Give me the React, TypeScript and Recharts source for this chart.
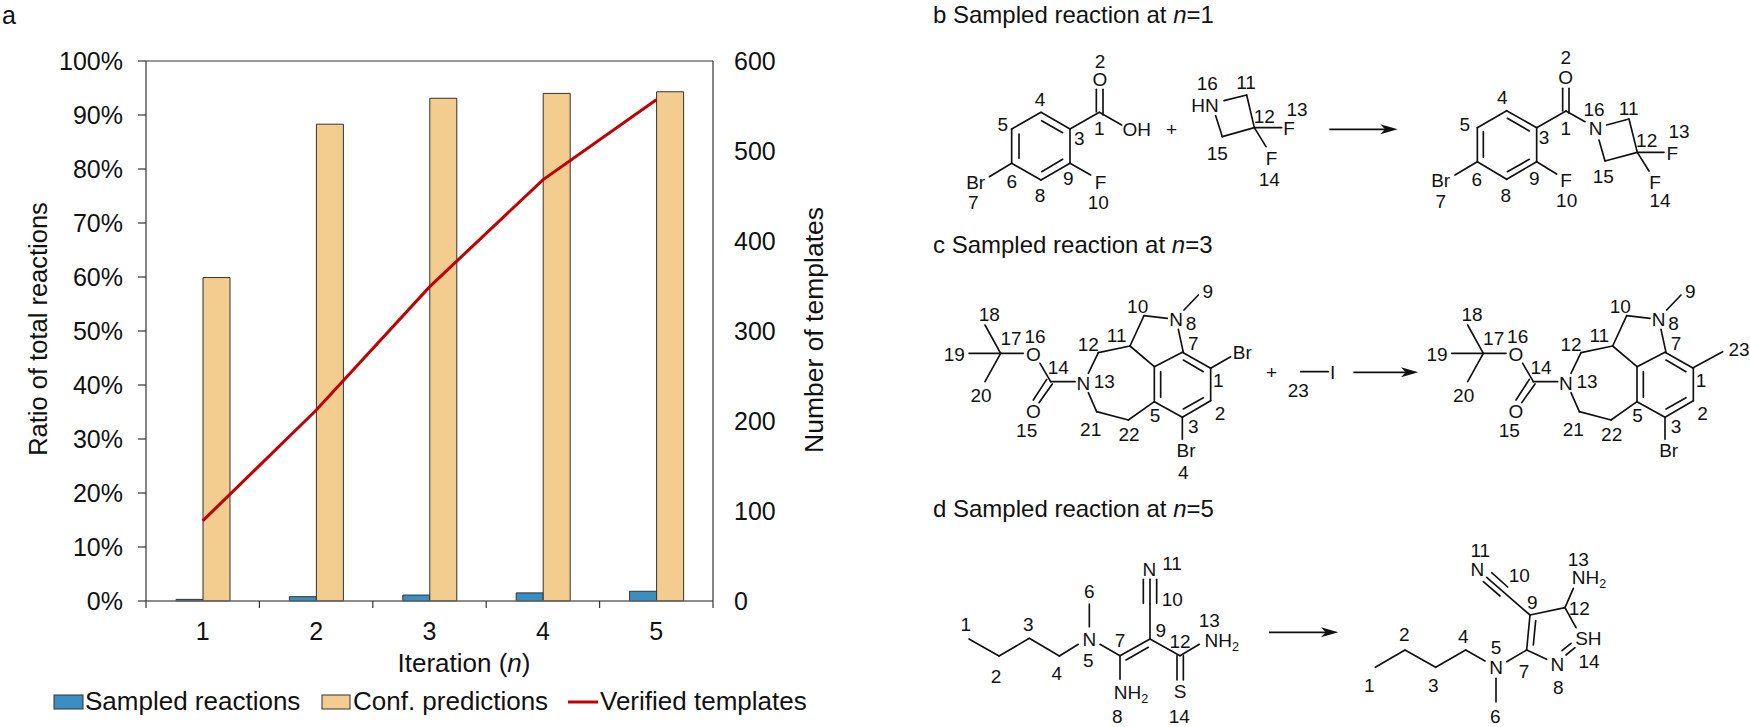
import { Bar, ComposedChart, Legend, Line, ReferenceLine, XAxis, YAxis } from "recharts"

const iterations = ["1", "2", "3", "4", "5"]
const sampledReactions = [0.3, 0.8, 1.1, 1.5, 1.8]
const confPredictions = [59.9, 88.3, 93.1, 94.0, 94.3]
const verifiedTemplates = [89, 212, 349, 468, 557]
const ratioTicks = [0, 10, 20, 30, 40, 50, 60, 70, 80, 90, 100]
const templateTicks = [0, 100, 200, 300, 400, 500, 600]

const FONT = "'Liberation Sans', Arial, sans-serif"
const BLUE = "#3b8ec2"
const TAN = "#f3cd8f"
const RED = "#c00000"

const chartData = iterations.map((n, i) => ({
    n,
    sampled: sampledReactions[i],
    conf: confPredictions[i],
    verified: verifiedTemplates[i],
}))

type Seg = [number, number, number, number]
type Lab = [string, number, number]

// structures are noted in crop pixels (3x), ox/oy put them back on the page
interface Structure {
    ox: number
    oy: number
    bonds: Seg[]
    labels: Lab[]
    arrow?: [number, number, number]
}

const boc: Seg[] = [
    [542, 430, 495, 345], [542, 430, 447, 430], [542, 430, 495, 515], [542, 430, 610, 430],
    [660, 460, 692, 515], [680, 508, 640, 570], [697, 522, 657, 578], [692, 515, 765, 515],
    [805, 490, 835, 428], [835, 428, 930, 408], [930, 408, 972, 317], [972, 317, 1042, 325],
    [1092, 300, 1135, 255], [1075, 358, 1090, 427], [930, 408, 1003, 470],
    [1003, 470, 1087, 427], [1087, 427, 1172, 475], [1172, 475, 1172, 572], [1172, 572, 1087, 622],
    [1087, 622, 1003, 575], [1003, 575, 1003, 470], [1090, 450, 1150, 485], [1150, 563, 1090, 597],
    [1022, 485, 1022, 562], [1087, 622, 1087, 688], [1003, 575, 925, 630], [925, 630, 830, 605],
    [830, 605, 805, 548],
]
const bocLabels: Lab[] = [
    ["9", 1163, 242], ["10", 953, 288], ["N", 1068, 328], ["8", 1113, 340], ["7", 1120, 398],
    ["18", 508, 312], ["17", 573, 383], ["16", 645, 378], ["12", 805, 402], ["11", 890, 375],
    ["19", 403, 432], ["O", 640, 432], ["14", 715, 472], ["N", 790, 518], ["13", 853, 513],
    ["20", 483, 555], ["O", 640, 602], ["15", 620, 660], ["21", 812, 657], ["22", 927, 673],
    ["5", 1005, 615], ["3", 1120, 648], ["2", 1200, 608], ["1", 1195, 510], ["Br", 1098, 720],
]

const structures: Structure[] = [
    {
        ox: 820, oy: 0,
        bonds: [
            [663, 337, 750, 387], [750, 387, 750, 490], [750, 490, 663, 540], [663, 540, 575, 490],
            [575, 490, 575, 387], [575, 387, 663, 337], [665, 362, 728, 398], [728, 478, 665, 515],
            [597, 402, 597, 475], [750, 387, 838, 337], [829, 335, 829, 268], [849, 345, 849, 268],
            [838, 337, 905, 375], [750, 490, 812, 525], [575, 490, 508, 530],
            [1212, 302, 1280, 285], [1280, 285, 1303, 383], [1303, 383, 1207, 410], [1207, 410, 1187, 347],
            [1303, 383, 1385, 383], [1303, 383, 1338, 440],
        ],
        labels: [
            ["2", 840, 182], ["O", 840, 237], ["4", 660, 298], ["5", 548, 373], ["1", 838, 385],
            ["OH", 950, 388], ["3", 778, 415], ["+", 1055, 388], ["9", 745, 533], ["F", 842, 545],
            ["10", 835, 605], ["8", 660, 585], ["6", 575, 543], ["Br", 467, 545], ["7", 460, 605],
            ["HN", 1155, 315], ["16", 1162, 250], ["11", 1278, 247], ["12", 1333, 347], ["13", 1431, 328],
            ["F", 1407, 385], ["15", 1192, 460], ["F", 1355, 473], ["14", 1348, 538],
        ],
    },
    {
        ox: 1270, oy: 0,
        arrow: [178, 383, 388],
        bonds: [
            [710, 332, 800, 383], [800, 383, 800, 485], [800, 485, 710, 538], [710, 538, 622, 485],
            [622, 485, 622, 383], [622, 383, 710, 332], [712, 355, 778, 393], [778, 478, 712, 515],
            [640, 395, 640, 472], [800, 383, 888, 333], [878, 333, 878, 265], [897, 340, 897, 265],
            [888, 333, 945, 365], [800, 485, 860, 522], [622, 485, 555, 525],
            [1010, 375, 1077, 357], [1077, 357, 1102, 457], [1102, 457, 1005, 483], [1005, 483, 987, 420],
            [1102, 457, 1182, 457], [1102, 457, 1137, 513],
        ],
        labels: [
            ["2", 887, 172], ["O", 887, 232], ["4", 697, 290], ["5", 584, 372], ["1", 887, 383],
            ["3", 822, 412], ["16", 972, 328], ["N", 977, 385], ["11", 1076, 323], ["12", 1130, 420],
            ["13", 1227, 392], ["F", 1207, 458], ["15", 1000, 528], ["F", 1155, 545], ["14", 1170, 600],
            ["9", 793, 535], ["F", 888, 540], ["10", 890, 600], ["8", 707, 585], ["6", 620, 538],
            ["Br", 512, 540], ["7", 512, 603],
        ],
    },
    {
        ox: 820, oy: 210,
        bonds: [...boc, [1172, 475, 1232, 440]],
        labels: [...bocLabels, ["Br", 1267, 427], ["4", 1090, 786], ["+", 1355, 487]],
    },
    {
        ox: 1270, oy: 210,
        arrow: [250, 445, 487],
        bonds: [[92, 485, 175, 485]],
        labels: [["23", 85, 540], ["I", 188, 487]],
    },
    {
        ox: 1302.67, oy: 210,
        bonds: [...boc, [1174, 472, 1260, 425]],
        labels: [...bocLabels, ["23", 1309, 417]],
    },
    {
        ox: 820, oy: 460,
        bonds: [
            [447, 537, 537, 588], [537, 588, 628, 535], [628, 535, 718, 588], [718, 588, 775, 553],
            [808, 432, 808, 500], [840, 553, 900, 587], [900, 587, 990, 537], [918, 600, 985, 562],
            [900, 587, 900, 658], [990, 537, 990, 432], [970, 430, 970, 358], [990, 432, 990, 358],
            [1010, 430, 1010, 358], [990, 537, 1080, 587], [1080, 587, 1138, 553],
            [1071, 587, 1071, 660], [1090, 587, 1090, 660],
        ],
        labels: [
            ["1", 437, 492], ["3", 625, 492], ["2", 528, 647], ["4", 710, 640], ["6", 808, 393],
            ["N", 808, 537], ["5", 805, 600], ["7", 900, 540], ["N", 988, 327], ["11", 1056, 310],
            ["10", 1057, 418], ["9", 1022, 510], ["12", 1080, 543], ["13", 1168, 480], ["NH2", 1205, 540],
            ["NH2", 933, 695], ["8", 892, 767], ["S", 1080, 693], ["14", 1078, 767],
        ],
    },
    {
        ox: 1270, oy: 460,
        arrow: [-3, 205, 517],
        bonds: [
            [316, 622, 405, 570], [405, 570, 497, 622], [497, 622, 587, 570], [587, 570, 645, 603],
            [678, 655, 678, 725], [710, 605, 770, 570], [770, 570, 780, 465], [790, 555, 797, 482],
            [780, 465, 885, 443], [885, 443, 918, 503], [885, 443, 910, 385], [770, 570, 830, 598],
            [876, 572, 903, 550], [888, 585, 915, 563], [650, 352, 780, 465], [640, 365, 690, 408],
            [665, 338, 713, 381],
        ],
        labels: [
            ["11", 631, 270], ["N", 622, 327], ["10", 748, 345], ["13", 925, 297], ["NH2", 957, 350],
            ["9", 787, 427], ["12", 928, 445], ["SH", 955, 535], ["14", 957, 602], ["N", 862, 613],
            ["8", 865, 680], ["7", 762, 632], ["5", 678, 560], ["N", 678, 622], ["2", 403, 522],
            ["4", 580, 528], ["1", 298, 675], ["3", 490, 675], ["6", 676, 767],
        ],
    },
]

const panelTitles: [string, number, string][] = [
    ["b Sampled reaction at ", 14, "=1"],
    ["c Sampled reaction at ", 244, "=3"],
    ["d Sampled reaction at ", 508, "=5"],
]

const PLOT_LEFT = 146
const PLOT_RIGHT = 713
const PLOT_TOP = 61
const PLOT_BOTTOM = 601
const CHART_W = 840
const BAND = (PLOT_RIGHT - PLOT_LEFT) / iterations.length

function CategoryTick({ x, y, payload, index }: any) {
    return (
        <g>
            <line x1={x - BAND / 2} x2={x - BAND / 2} y1={y} y2={y + 7} stroke="#333" strokeWidth={1.2} />
            {index === iterations.length - 1 && (
                <line x1={x + BAND / 2} x2={x + BAND / 2} y1={y} y2={y + 7} stroke="#333" strokeWidth={1.2} />
            )}
            <text x={x} y={y + 39} textAnchor="middle" fontSize={25} fontFamily={FONT} fill="#111">
                {payload.value}
            </text>
        </g>
    )
}

const legendSpots: Record<string, [number, number, number]> = {
    "Sampled reactions": [54, 29, 85],
    "Conf. predictions": [322, 28, 353],
    "Verified templates": [568, 30, 600],
}

function ChartLegend({ payload }: any) {
    return (
        <svg width={CHART_W} height={40} style={{ display: "block" }}>
            {(payload || []).map((item: any) => {
                const [x, w, tx] = legendSpots[item.value]
                return (
                    <g key={item.value}>
                        {item.type === "line" ? (
                            <line x1={x} x2={x + w} y1={20} y2={20} stroke={item.color} strokeWidth={3} />
                        ) : (
                            <rect x={x} y={13} width={w} height={14} fill={item.color} stroke="#333" strokeWidth={1} />
                        )}
                        <text x={tx} y={28} fontSize={26} fontFamily={FONT} fill="#111">
                            {item.value}
                        </text>
                    </g>
                )
            })}
        </svg>
    )
}

function Atom({ text, x, y }: { text: string; x: number; y: number }) {
    const isAmine = text === "NH2"
    return (
        <text x={x} y={y} dy="0.36em" textAnchor="middle" fontSize={19} fontFamily={FONT} fill="#111">
            {isAmine ? "NH" : text}
            {isAmine && (
                <tspan fontSize={12.5} dy="4">
                    2
                </tspan>
            )}
        </text>
    )
}

function StructureLayer() {
    return (
        <svg width={1750} height={727} style={{ position: "absolute", left: 0, top: 0 }}>
            {panelTitles.map(([head, y, tail]) => (
                <text key={head} x={933} y={y} dy="0.36em" fontSize={24} fontFamily={FONT} fill="#111">
                    {head}
                    <tspan fontStyle="italic">n</tspan>
                    {tail}
                </text>
            ))}
            {structures.map((s, i) => (
                <g key={i} transform={`translate(${s.ox} ${s.oy}) scale(${1 / 3})`}>
                    {s.bonds.map(([x1, y1, x2, y2], j) => (
                        <line key={j} x1={x1} y1={y1} x2={x2} y2={y2} stroke="#111" strokeWidth={5} strokeLinecap="round" />
                    ))}
                    {s.arrow && (
                        <g>
                            <line x1={s.arrow[0]} x2={s.arrow[1] - 30} y1={s.arrow[2]} y2={s.arrow[2]} stroke="#111" strokeWidth={5} />
                            <polygon
                                points={`${s.arrow[1]},${s.arrow[2]} ${s.arrow[1] - 52},${s.arrow[2] - 15} ${s.arrow[1] - 38},${s.arrow[2]} ${s.arrow[1] - 52},${s.arrow[2] + 15}`}
                                fill="#111"
                            />
                        </g>
                    )}
                    <g transform="scale(3)">
                        {s.labels.map(([t, x, y], j) => (
                            <Atom key={j} text={t} x={x / 3} y={y / 3} />
                        ))}
                    </g>
                </g>
            ))}
        </svg>
    )
}

function SideTitle({ x, y, size, text }: { x: number; y: number; size: number; text: string }) {
    return (
        <text x={x} y={y} transform={`rotate(-90 ${x} ${y})`} textAnchor="middle" fontSize={size} fontFamily={FONT} fill="#111">
            {text}
        </text>
    )
}

export default function App() {
    return (
        <div style={{ position: "absolute", left: 0, top: 0, width: 1750, height: 727, background: "#fff", overflow: "hidden" }}>
            <div style={{ position: "absolute", left: 2, top: 1, fontSize: 25, fontFamily: FONT, color: "#111" }}>a</div>
            <ComposedChart
                width={CHART_W}
                height={727}
                data={chartData}
                barGap={0}
                margin={{ top: PLOT_TOP, right: CHART_W - PLOT_RIGHT - 110, bottom: 727 - PLOT_BOTTOM - 60, left: 0 }}
                style={{ position: "absolute", left: 0, top: 0 }}
            >
                <XAxis
                    dataKey="n"
                    height={60}
                    axisLine={{ stroke: "#666", strokeWidth: 1.5 }}
                    tickLine={false}
                    tickSize={0}
                    tickMargin={0}
                    tick={<CategoryTick />}
                    interval={0}
                    label={() => (
                        <text x={464} y={672} textAnchor="middle" fontSize={26} fontFamily={FONT} fill="#111">
                            Iteration (<tspan fontStyle="italic">n</tspan>)
                        </text>
                    )}
                />
                <YAxis
                    yAxisId="ratio"
                    width={PLOT_LEFT}
                    domain={[0, 100]}
                    ticks={ratioTicks}
                    interval={0}
                    tickFormatter={(v: number) => `${v}%`}
                    tick={{ fontSize: 25, fontFamily: FONT, fill: "#111" }}
                    tickSize={8}
                    tickMargin={15}
                    tickLine={{ stroke: "#333", strokeWidth: 1.2 }}
                    axisLine={{ stroke: "#333", strokeWidth: 1.2 }}
                    label={() => <SideTitle x={47} y={329} size={25.5} text="Ratio of total reactions" />}
                />
                <YAxis
                    yAxisId="templates"
                    orientation="right"
                    width={110}
                    domain={[0, 600]}
                    ticks={templateTicks}
                    interval={0}
                    tick={{ fontSize: 25, fontFamily: FONT, fill: "#111" }}
                    tickLine={false}
                    tickSize={0}
                    tickMargin={21}
                    axisLine={{ stroke: "#333", strokeWidth: 1.2 }}
                    label={() => <SideTitle x={822.5} y={330} size={26.5} text="Number of templates" />}
                />
                <ReferenceLine yAxisId="ratio" y={100} stroke="#333" strokeWidth={1.2} />
                <Bar yAxisId="ratio" dataKey="sampled" name="Sampled reactions" barSize={27} fill={BLUE} stroke="#333" strokeWidth={1} isAnimationActive={false} />
                <Bar yAxisId="ratio" dataKey="conf" name="Conf. predictions" barSize={27} fill={TAN} stroke="#333" strokeWidth={1} isAnimationActive={false} />
                <Line yAxisId="templates" dataKey="verified" name="Verified templates" type="linear" stroke={RED} strokeWidth={3} dot={false} activeDot={false} isAnimationActive={false} />
                <Legend
                    layout="horizontal"
                    verticalAlign="middle"
                    itemSorter={null}
                    content={<ChartLegend />}
                    wrapperStyle={{ left: 0, top: 682, width: CHART_W, height: 40 }}
                />
            </ComposedChart>
            <StructureLayer />
        </div>
    )
}
